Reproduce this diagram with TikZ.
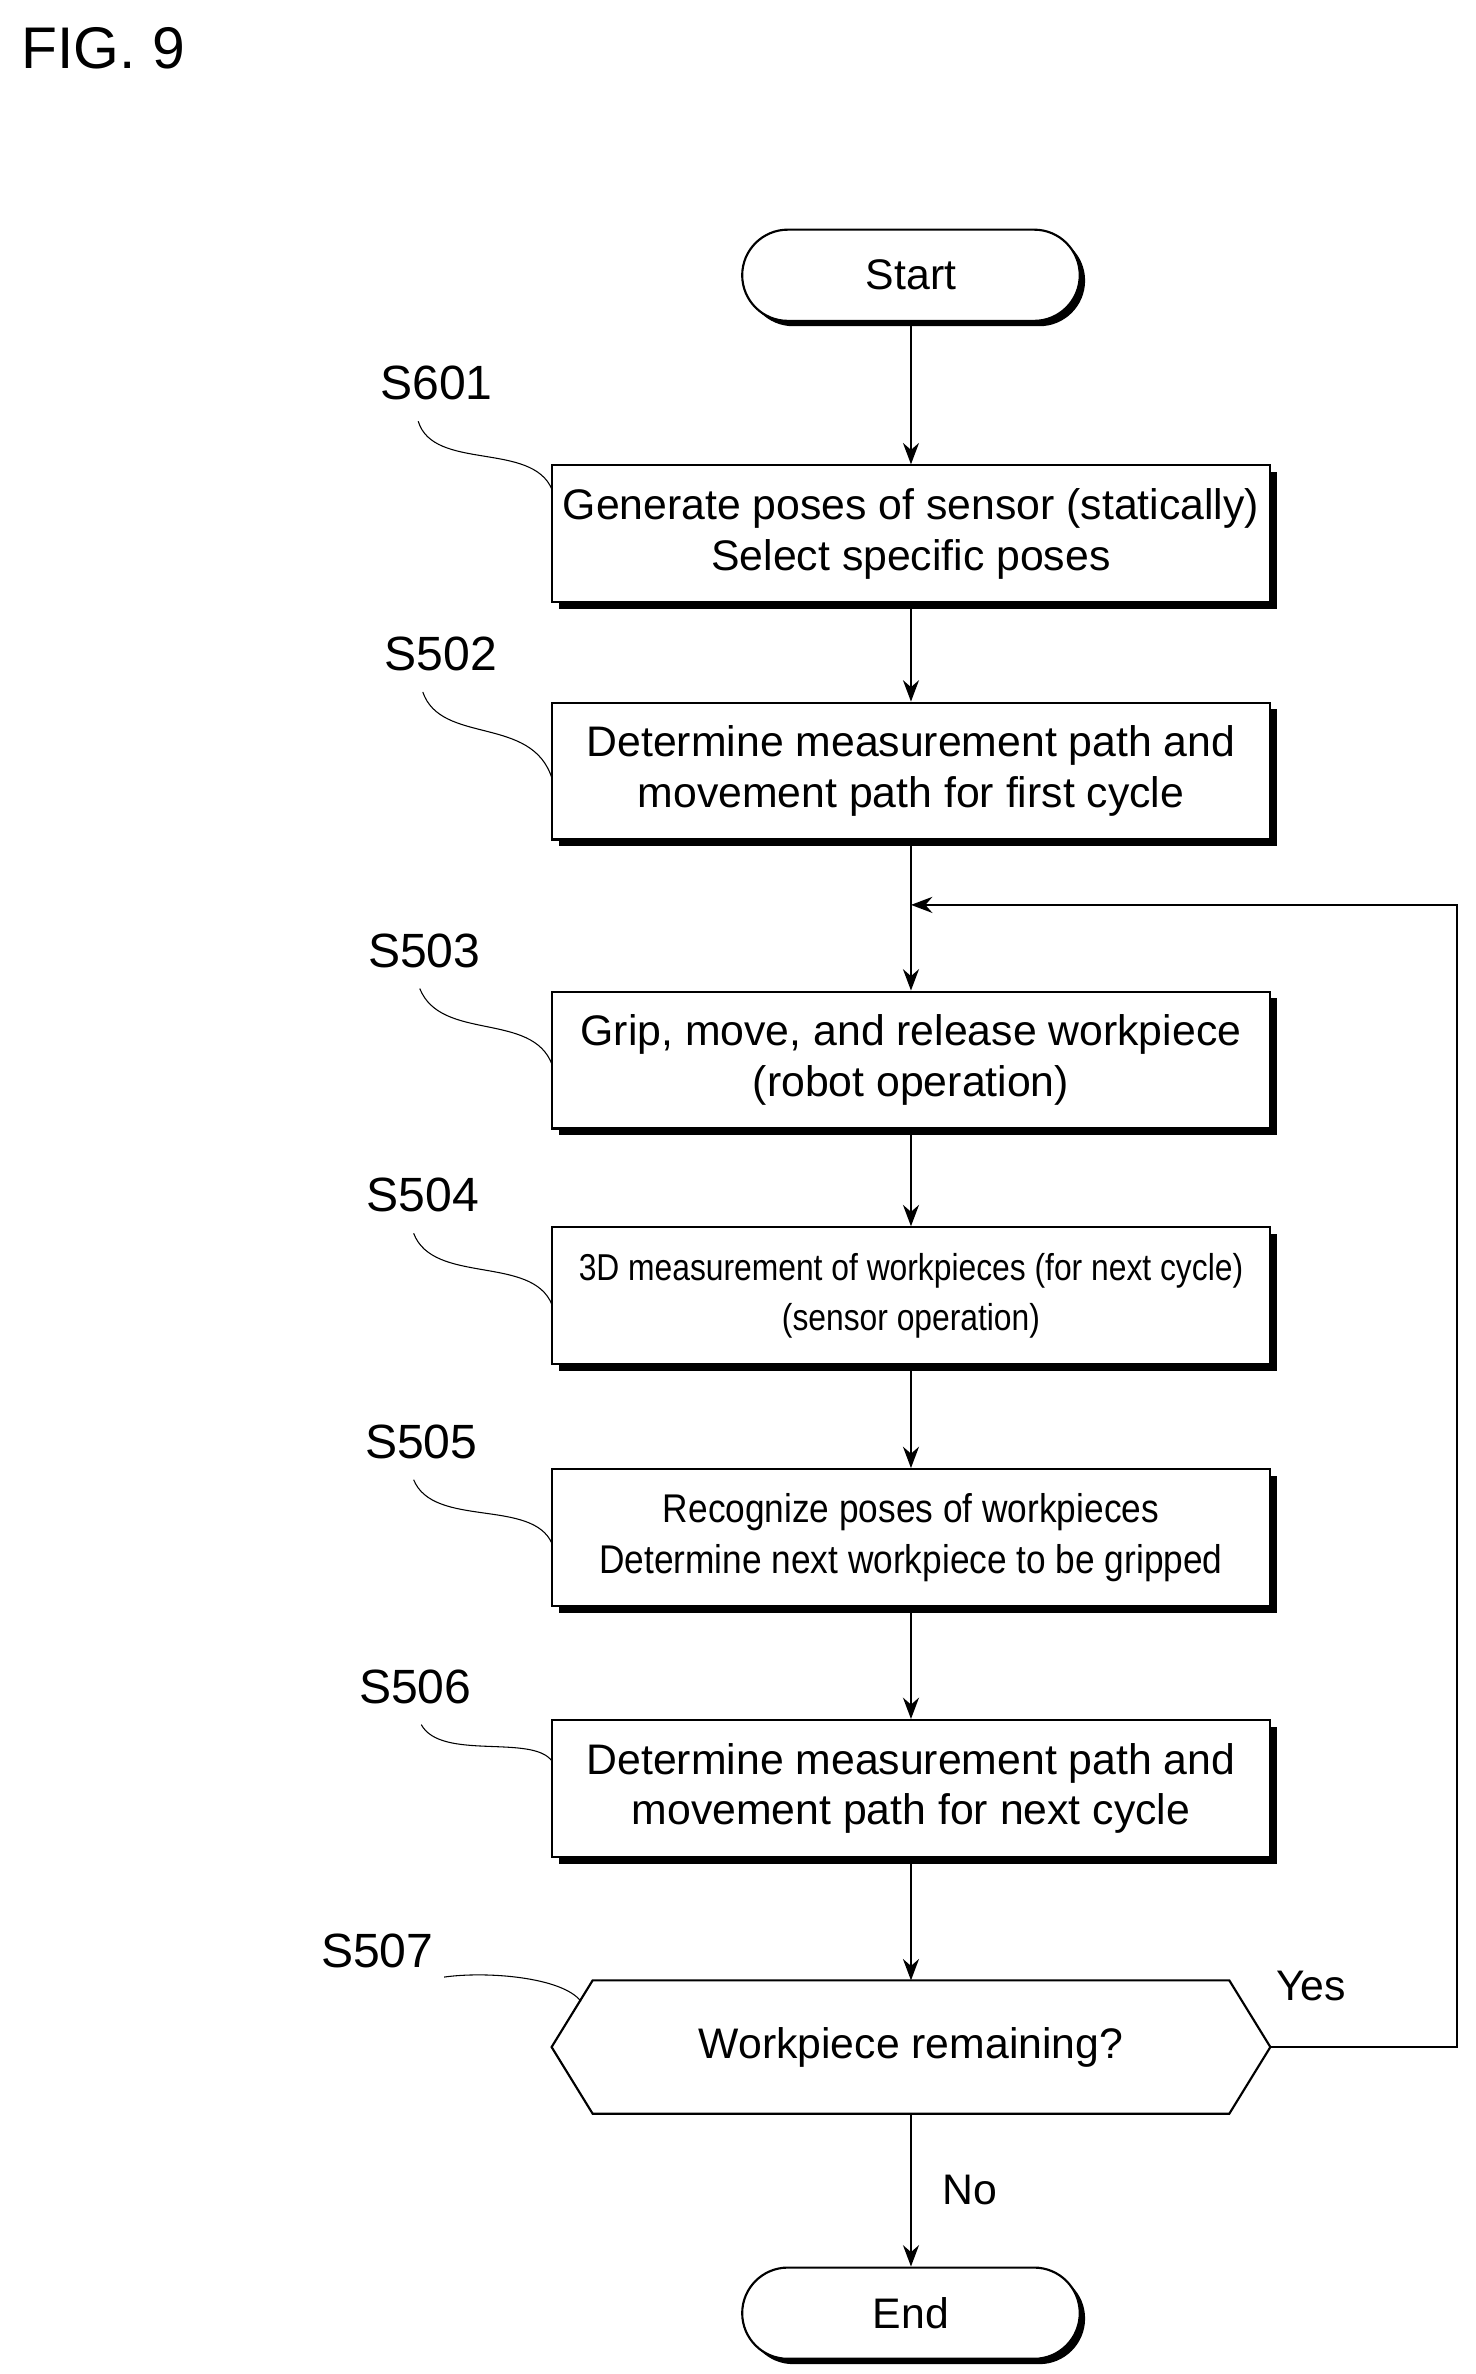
\documentclass[tikz,border=0pt]{standalone}
\usepackage{fontspec}
\setmainfont{Liberation Sans}
\usetikzlibrary{arrows.meta,positioning,calc,shadows}

\begin{document}
\begin{tikzpicture}[
  x=0.02cm, y=-0.02cm,
  box/.style={draw, thick, fill=white, minimum width=9.44cm, minimum height=1.8cm, align=center,
    font=\fontsize{16}{19}\selectfont,
    general shadow={fill=black, shadow xshift=2.5pt, shadow yshift=-2.5pt}},
  term/.style={draw, thick, fill=white, rounded corners=0.6cm, minimum width=4.44cm, minimum height=1.2cm,
    font=\fontsize{16}{19}\selectfont,
    general shadow={fill=black, shadow xshift=2pt, shadow yshift=-2pt}},
  steplbl/.style={font=\fontsize{18}{20}\selectfont},
  arr/.style={-{Stealth[length=8pt,width=6pt]}, thick},
  lead/.style={thin}
]
\useasboundingbox (0,0) rectangle (970,1561);

\node[anchor=west, font=\fontsize{22}{24}\selectfont] (fig) at (8,32) {FIG. 9};

% Nodes
\node[term] (start) at (599,181) {Start};
\node[box] (s601) at (599,351) {Generate poses of sensor (statically)\\Select specific poses};
\node[box] (s502) at (599,507) {Determine measurement path and\\movement path for first cycle};
\node[box] (s503) at (599,697) {Grip, move, and release workpiece\\(robot operation)};
\node[box, font=\fontsize{14}{19}\selectfont] (s504) at (599,852)
  {\scalebox{0.85}[1]{3D measurement of workpieces (for next cycle)}\\\scalebox{0.85}[1]{(sensor operation)}};
\node[box, font=\fontsize{15}{19}\selectfont] (s505) at (599,1011)
  {\scalebox{0.88}[1]{Recognize poses of workpieces}\\\scalebox{0.88}[1]{Determine next workpiece to be gripped}};
\node[box] (s506) at (599,1176) {Determine measurement path and\\movement path for next cycle};
\node[minimum width=9.44cm, minimum height=1.74cm, font=\fontsize{16}{19}\selectfont] (s507) at (599,1346) {};
\draw[thick, fill=white]
  ($(s507.north west)+(27,0)$) -- ($(s507.north east)+(-27,0)$) -- (s507.east)
  -- ($(s507.south east)+(-27,0)$) -- ($(s507.south west)+(27,0)$) -- (s507.west) -- cycle;
\node[font=\fontsize{16}{19}\selectfont] (s507t) at (s507) {Workpiece remaining?};
\node[term] (end) at (599,1521) {End};

% Step labels
\node[steplbl] (l601) at (287,252) {S601};
\node[steplbl] (l502) at (290,430) {S502};
\node[steplbl] (l503) at (279,625) {S503};
\node[steplbl] (l504) at (278,786) {S504};
\node[steplbl] (l505) at (277,948) {S505};
\node[steplbl] (l506) at (273,1109) {S506};
\node[steplbl] (l507) at (248,1283) {S507};

\draw[lead] (275,277) .. controls (285,310) and (350,290) .. (363,322);
\draw[lead] (278,455) .. controls (290,490) and (350,470) .. (363,512);
\draw[lead] (276,650) .. controls (290,685) and (350,665) .. (363,700);
\draw[lead] (272,811) .. controls (285,845) and (350,825) .. (363,858);
\draw[lead] (272,973) .. controls (285,1005) and (350,985) .. (363,1015);
\draw[lead] (277,1134) .. controls (290,1158) and (350,1140) .. (363,1158);
\draw[lead] (292,1300) .. controls (320,1296) and (370,1300) .. (382,1316);

% Arrows
\draw[arr] (start) -- (s601);
\draw[arr] (s601) -- (s502);
\draw[arr] (s502) -- (s503);
\draw[arr] (s503) -- (s504);
\draw[arr] (s504) -- (s505);
\draw[arr] (s505) -- (s506);
\draw[arr] (s506) -- (s507.north);
\draw[arr] (s507.south) -- node[right, xshift=8pt, font=\fontsize{16}{19}\selectfont]{No} (end);

% Loop back
\coordinate (join) at (599,595);
\draw[arr] (s507.east) -- (958,1346) |- (join);
\node[font=\fontsize{16}{19}\selectfont] (yes) at (862,1306) {Yes};

\end{tikzpicture}
\end{document}
